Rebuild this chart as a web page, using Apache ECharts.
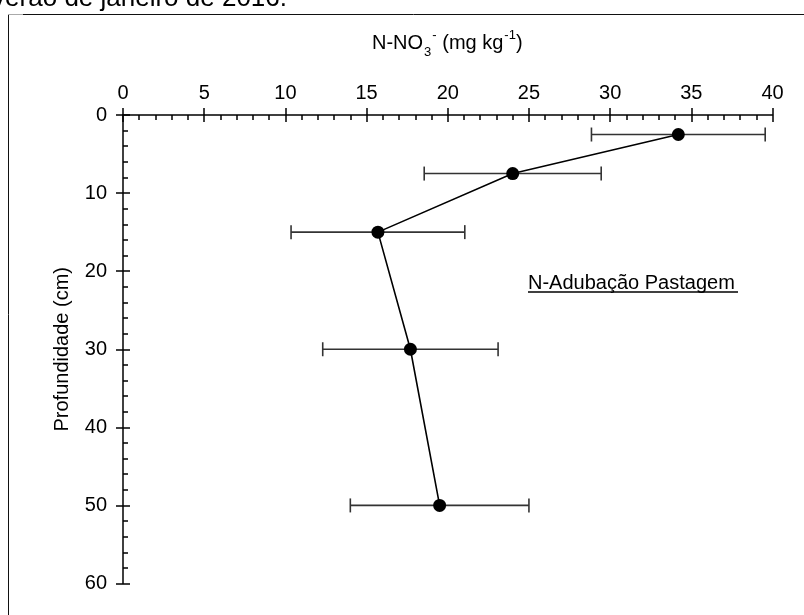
<!DOCTYPE html>
<html>
<head>
<meta charset="utf-8">
<script src="https://cdn.jsdelivr.net/npm/echarts@6/dist/echarts.min.js"></script>
<style>
  html, body { margin: 0; padding: 0; background: #fff; }
  #chart { width: 804px; height: 615px; }
</style>
</head>
<body>
<div id="chart"></div>
<script>
// N-NO3- concentration by soil depth (mean ± deviation)
const depths = [2.5, 7.5, 15, 30, 50];
const nitrate = [34.2, 24.0, 15.7, 17.7, 19.5];
const deviation = [5.35, 5.45, 5.35, 5.4, 5.5];
const xTicks = { min: 0, max: 40, step: 5 };
const yTicks = { min: 0, max: 60, step: 10 };

const FONT = 'Liberation Sans, Arial, sans-serif';
const INK = '#000';

const points = depths.map((d, i) => [nitrate[i], d]);
const bars = depths.map((d, i) => [nitrate[i], d, deviation[i]]);

const chart = echarts.init(document.getElementById('chart'), null, { renderer: 'canvas' });

const baseX = {
  type: 'value', position: 'top',
  min: xTicks.min, max: xTicks.max, interval: xTicks.step,
  splitLine: { show: false }
};
const baseY = {
  type: 'value', position: 'left', inverse: true,
  min: yTicks.min, max: yTicks.max, interval: yTicks.step,
  splitLine: { show: false }
};

chart.setOption({
  animation: false,
  backgroundColor: '#fff',
  grid: { left: 123, top: 115, right: 31.5, bottom: 31.5, containLabel: false },
  xAxis: [
    Object.assign({}, baseX, {
      axisLine: { show: true, lineStyle: { color: INK, width: 1.5 } },
      axisTick: { show: true, inside: false, length: 7, lineStyle: { color: INK, width: 1.5 } },
      axisLabel: { show: true, margin: 12, color: INK, fontSize: 20, fontFamily: FONT }
    }),
    Object.assign({}, baseX, {
      axisLine: { show: false },
      axisTick: { show: true, inside: true, length: 7, lineStyle: { color: INK, width: 1.5 } },
      minorTick: { show: true, splitNumber: 5, length: 5, lineStyle: { color: INK, width: 1.5 } },
      axisLabel: { show: false }
    })
  ],
  yAxis: [
    Object.assign({}, baseY, {
      name: 'Profundidade (cm)',
      nameLocation: 'middle', nameRotate: 90, nameGap: 51,
      nameTextStyle: { color: INK, fontSize: 20, fontFamily: FONT },
      axisLine: { show: true, lineStyle: { color: INK, width: 1.5 } },
      axisTick: { show: true, inside: false, length: 7, lineStyle: { color: INK, width: 1.5 } },
      axisLabel: { show: true, margin: 16, color: INK, fontSize: 20, fontFamily: FONT }
    }),
    Object.assign({}, baseY, {
      axisLine: { show: false },
      axisTick: { show: true, inside: true, length: 7, lineStyle: { color: INK, width: 1.5 } },
      minorTick: { show: true, splitNumber: 5, length: 5, lineStyle: { color: INK, width: 1.5 } },
      axisLabel: { show: false }
    })
  ],
  series: [
    {
      type: 'custom',
      xAxisIndex: 0, yAxisIndex: 0,
      z: 2,
      data: bars,
      renderItem: function (params, api) {
        const x = api.value(0), y = api.value(1), e = api.value(2);
        const a = api.coord([x - e, y]);
        const b = api.coord([x + e, y]);
        const cap = 7;
        const style = { stroke: '#333', lineWidth: 1.6 };
        return {
          type: 'group',
          children: [
            { type: 'line', shape: { x1: a[0], y1: a[1], x2: b[0], y2: b[1] }, style: style },
            { type: 'line', shape: { x1: a[0], y1: a[1] - cap, x2: a[0], y2: a[1] + cap }, style: style },
            { type: 'line', shape: { x1: b[0], y1: b[1] - cap, x2: b[0], y2: b[1] + cap }, style: style }
          ]
        };
      }
    },
    {
      type: 'line',
      xAxisIndex: 0, yAxisIndex: 0,
      z: 3,
      data: points,
      symbol: 'circle', symbolSize: 13,
      itemStyle: { color: INK },
      lineStyle: { color: INK, width: 1.6 }
    }
  ],
  graphic: [
    // page frame
    { type: 'line', shape: { x1: 8.5, y1: 14, x2: 8.5, y2: 615 }, style: { stroke: '#111', lineWidth: 1 } },
    { type: 'line', shape: { x1: 23, y1: 14.5, x2: 804, y2: 14.5 }, style: { stroke: '#111', lineWidth: 1 } },
    { type: 'line', shape: { x1: 8, y1: 14.5, x2: 23, y2: 14.5 }, style: { stroke: '#aaa', lineWidth: 1 } },
    // caption line above the frame
    {
      type: 'text', x: 287, y: -1,
      style: { text: 'verão de janeiro de 2016.', fill: INK, font: '26px ' + FONT, align: 'right', verticalAlign: 'middle' }
    },
    // x-axis title with sub/superscripts
    {
      type: 'text', x: 372, y: 43,
      style: {
        text: '{b|N-NO}{sub|3}{sup|-}{b| (mg kg}{sup|-1}{b|)}',
        verticalAlign: 'middle',
        rich: {
          b: { fontSize: 20, fontFamily: FONT, fill: INK, lineHeight: 28, verticalAlign: 'middle' },
          sub: { fontSize: 13, fontFamily: FONT, fill: INK, lineHeight: 13, verticalAlign: 'bottom', padding: [0, 0, -2, 1] },
          sup: { fontSize: 13, fontFamily: FONT, fill: INK, lineHeight: 13, verticalAlign: 'top', padding: [0, 0, 0, 1] }
        }
      }
    },
    // treatment label
    {
      type: 'text', x: 528, y: 283,
      style: { text: 'N-Adubação Pastagem', fill: INK, font: '20px ' + FONT, verticalAlign: 'middle' }
    },
    { type: 'line', shape: { x1: 528, y1: 292, x2: 738, y2: 292 }, style: { stroke: INK, lineWidth: 1.3 } }
  ]
});
</script>
</body>
</html>
